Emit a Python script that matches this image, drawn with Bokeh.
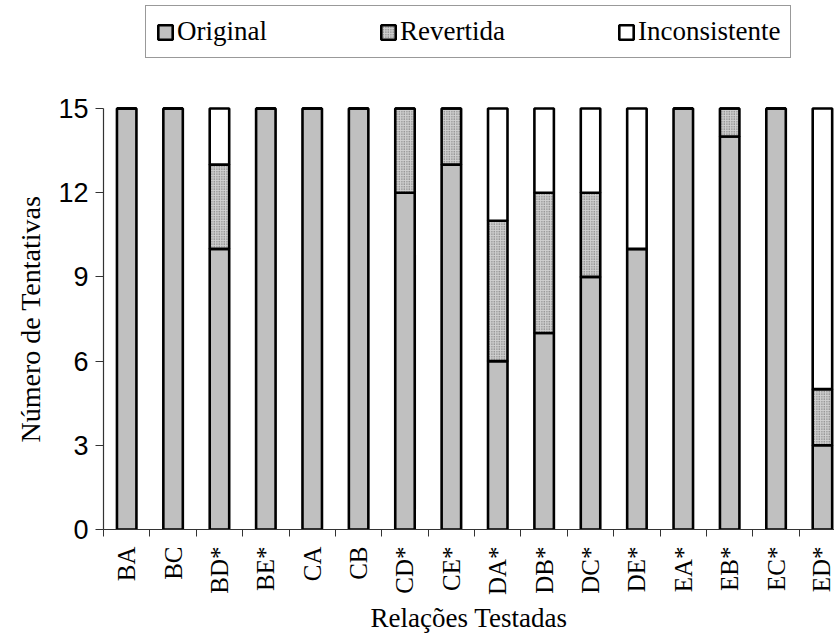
import math
from bokeh.plotting import figure
from bokeh.models import Range1d, FixedTicker, Legend, LegendItem, ColumnDataSource, Title
from bokeh.embed import file_html
from bokeh.resources import INLINE

categories = ["BA", "BC", "BD*", "BE*", "CA", "CB", "CD*", "CE*",
              "DA*", "DB*", "DC*", "DE*", "EA*", "EB*", "EC*", "ED*"]
original = [15, 15, 10, 15, 15, 15, 12, 13, 6, 7, 9, 10, 15, 14, 15, 3]
revertida = [0, 0, 3, 0, 0, 0, 3, 2, 5, 5, 3, 0, 0, 1, 0, 2]
inconsistente = [0, 0, 2, 0, 0, 0, 0, 0, 4, 3, 3, 5, 0, 0, 0, 10]
series_names = ["Original", "Revertida", "Inconsistente"]
y_ticks = [0, 3, 6, 9, 12, 15]

x_centers = [i + 0.5 for i in range(len(categories))]
boundaries = list(range(len(categories) + 1))

# rotated labels are start-aligned by Bokeh; pad the shorter ones (no "*")
# with two no-break spaces (same advance as "*") so their ends line up at the axis
NBSP2 = "\u00a0\u00a0"
tick_text = [c if c.endswith("*") else NBSP2 + c for c in categories]

src = ColumnDataSource(dict(x=x_centers, Original=original,
                            Revertida=revertida, Inconsistente=inconsistente))

# layout: the frame spans the legend band too; the value axis stops at y_max
FRAME_H = 529
AXIS_TOP_PX = 108
y_max = y_ticks[-1]
y_end = y_max * FRAME_H / (FRAME_H - AXIS_TOP_PX)

p = figure(frame_width=731, frame_height=FRAME_H, output_backend="svg",
           toolbar_location=None, x_range=Range1d(0, 15.76), y_range=Range1d(0, y_end),
           min_border_left=103, min_border_right=0, min_border_top=0,
           min_border_bottom=0)
p.outline_line_color = None
p.xgrid.visible = False
p.ygrid.visible = False

renderers = p.vbar_stack(series_names, x="x", width=0.42, source=src,
                         fill_color=["#c0c0c0", "#d0d0d0", "white"],
                         line_color="black", line_width=2.6,
                         hatch_pattern=[None, "dot", None],
                         hatch_color="#5a5a5a", hatch_scale=2.5, hatch_weight=1.2)

# axes
p.yaxis.ticker = FixedTicker(ticks=y_ticks)
p.yaxis.bounds = (0, y_max)
p.yaxis.major_tick_out = 8
p.yaxis.major_tick_in = 0
p.yaxis.minor_tick_line_color = None
p.yaxis.major_label_standoff = 7
p.yaxis.major_label_text_font = "Liberation Sans"
p.yaxis.major_label_text_font_size = "27px"

p.xaxis.ticker = FixedTicker(ticks=x_centers, minor_ticks=boundaries)
p.xaxis.major_label_overrides = dict(zip(x_centers, tick_text))
p.xaxis.axis_label = "Relações Testadas"
p.xaxis.major_tick_out = 0
p.xaxis.major_tick_in = 0
p.xaxis.minor_tick_out = 7
p.xaxis.minor_tick_in = 0
p.xaxis.major_label_orientation = math.pi / 2
p.xaxis.major_label_standoff = 10
p.xaxis.major_label_text_font = "Liberation Serif"
p.xaxis.major_label_text_font_size = "25px"
p.xaxis.axis_label_standoff = 5

for ax in (p.xaxis, p.yaxis):
    ax.axis_line_color = "#333333"
    ax.axis_line_width = 1.2
    ax.major_tick_line_color = "#333333"
    ax.major_label_text_color = "black"
    ax.axis_label_text_font = "Liberation Serif"
    ax.axis_label_text_font_size = "27px"
    ax.axis_label_text_font_style = "normal"
    ax.axis_label_text_color = "black"
p.xaxis.minor_tick_line_color = "#333333"

# y-axis title, centred on the 0..15 value span rather than on the whole frame
ytitle = Title(text="Número de Tentativas", align="left", offset=87,
               text_font="Liberation Serif", text_font_size="28px",
               text_font_style="normal", text_color="black", standoff=19)
p.add_layout(ytitle, "left")

legend = Legend(items=[LegendItem(label=n, renderers=[r]) for n, r in zip(series_names, renderers)],
                location=(42, FRAME_H - 58), orientation="horizontal",
                label_text_font="Liberation Serif", label_text_font_size="27px",
                label_text_color="black",
                glyph_width=18, glyph_height=18, label_standoff=3,
                spacing=112, padding=10,
                border_line_color="#333333", border_line_width=1,
                background_fill_color="white", background_fill_alpha=1)
p.add_layout(legend)

open("out.html", "w").write(file_html(p, INLINE))
